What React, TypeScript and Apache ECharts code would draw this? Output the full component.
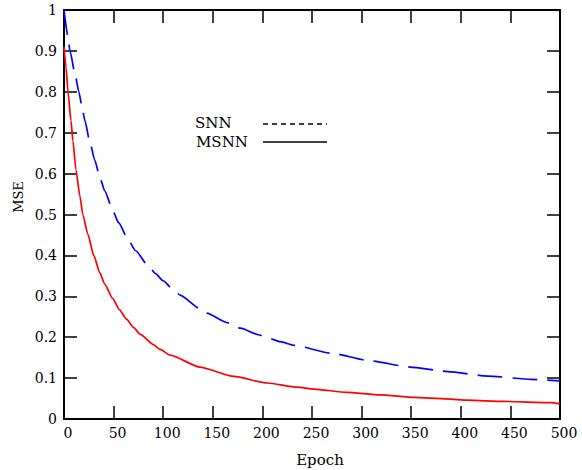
import React, { useEffect, useRef } from "react";
import * as echarts from "echarts";

const xTicks = [0, 50, 100, 150, 200, 250, 300, 350, 400, 450, 500];

const snnEpochs = [0, 4, 6, 11, 15, 18, 21, 26, 31, 36, 41, 50, 55, 65, 72, 85, 92, 100, 109, 117, 137, 144, 164, 178, 196, 206, 218, 232, 269, 309, 349, 387, 427, 471, 500];
const snnMse = [1.0, 0.935, 0.9, 0.845, 0.8, 0.765, 0.73, 0.678, 0.633, 0.592, 0.558, 0.505, 0.48, 0.437, 0.412, 0.374, 0.356, 0.338, 0.319, 0.303, 0.27, 0.259, 0.236, 0.222, 0.206, 0.198, 0.189, 0.18, 0.161, 0.142, 0.127, 0.116, 0.105, 0.097, 0.093];

const msnnEpochs = [0, 2, 4, 7, 9, 12, 16, 19, 24, 30, 36, 41, 49, 56, 63, 70, 77, 90, 97, 107, 137, 171, 205, 235, 252, 285, 319, 353, 386, 407, 443, 491, 500];
const msnnMse = [0.91, 0.86, 0.8, 0.73, 0.68, 0.61, 0.545, 0.5, 0.452, 0.4, 0.358, 0.33, 0.295, 0.267, 0.244, 0.224, 0.207, 0.182, 0.17, 0.156, 0.127, 0.104, 0.088, 0.078, 0.073, 0.065, 0.059, 0.053, 0.049, 0.046, 0.043, 0.04, 0.037];

const legendLabels = ["SNN", "MSNN"];

const FONT = "DejaVu Serif";

export default function App() {
  const ref = useRef<HTMLDivElement>(null);
  useEffect(() => {
    if (!ref.current) return;
    const chart = echarts.init(ref.current, null, { renderer: "svg" });
    const axisLine = { show: true, onZero: false, lineStyle: { color: "#000", width: 2 } };
    const tick = { show: true, inside: true, length: 13, lineStyle: { color: "#000", width: 1.5 } };
    chart.setOption({
      animation: false,
      backgroundColor: "#fff",
      grid: { left: 64, right: 22, top: 10, bottom: 51, containLabel: false },
      xAxis: [
        {
          type: "value",
          min: 0,
          max: 500,
          interval: 50,
          position: "bottom",
          axisLine,
          axisTick: tick,
          splitLine: { show: false },
          axisLabel: {
            color: "#000",
            fontFamily: FONT,
            fontSize: 14,
            margin: 7,
            padding: [0, 0, 0, 8],
            formatter: (v: number) => (xTicks.includes(v) ? String(v) : ""),
          },
        },
        {
          type: "value",
          min: 0,
          max: 500,
          interval: 50,
          position: "top",
          axisLine,
          axisTick: tick,
          splitLine: { show: false },
          axisLabel: { show: false },
        },
      ],
      yAxis: [
        {
          type: "value",
          min: 0,
          max: 1,
          interval: 0.1,
          position: "left",
          axisLine,
          axisTick: tick,
          splitLine: { show: false },
          axisLabel: {
            color: "#000",
            fontFamily: FONT,
            fontSize: 14,
            margin: 7,
            padding: [7, 0, 0, 0],
            formatter: (v: number) => (v === 0 ? "0" : v === 1 ? "1" : v.toFixed(1)),
          },
        },
        {
          type: "value",
          min: 0,
          max: 1,
          interval: 0.1,
          position: "right",
          axisLine,
          axisTick: tick,
          splitLine: { show: false },
          axisLabel: { show: false },
        },
      ],
      series: [
        {
          name: legendLabels[0],
          type: "line",
          xAxisIndex: 0,
          yAxisIndex: 0,
          showSymbol: false,
          smooth: 0.2,
          smoothMonotone: "x",
          lineStyle: { color: "#0000ff", width: 1.7, type: [25, 10] },
          data: snnEpochs.map((e, i) => [e, snnMse[i]]),
        },
        {
          name: legendLabels[1],
          type: "line",
          xAxisIndex: 0,
          yAxisIndex: 0,
          showSymbol: false,
          smooth: 0.2,
          smoothMonotone: "x",
          lineStyle: { color: "#ff0000", width: 1.7, type: "solid" },
          data: msnnEpochs.map((e, i) => [e, msnnMse[i]]),
        },
      ],
      graphic: [
        {
          type: "text",
          left: 195,
          top: 115,
          style: { text: legendLabels[0], fontFamily: FONT, fontSize: 15, fill: "#000" },
        },
        {
          type: "line",
          shape: { x1: 263, y1: 124, x2: 327, y2: 124 },
          style: { stroke: "#000", lineWidth: 1.3, lineDash: [5, 4] },
        },
        {
          type: "text",
          left: 196,
          top: 134,
          style: { text: legendLabels[1], fontFamily: FONT, fontSize: 15, fill: "#000" },
        },
        {
          type: "line",
          shape: { x1: 263, y1: 142, x2: 327, y2: 142 },
          style: { stroke: "#000", lineWidth: 1.3 },
        },
        {
          type: "text",
          x: 320,
          y: 460,
          style: { text: "Epoch", fontFamily: FONT, fontSize: 15, fill: "#000", align: "center", verticalAlign: "middle" },
        },
        {
          type: "text",
          x: 18,
          y: 197,
          rotation: Math.PI / 2,
          style: { text: "MSE", fontFamily: FONT, fontSize: 13, fill: "#000", align: "center", verticalAlign: "middle" },
        },
      ],
    });
    return () => chart.dispose();
  }, []);
  return <div ref={ref} style={{ position: "fixed", left: 0, top: 0, width: 582, height: 470 }} />;
}
